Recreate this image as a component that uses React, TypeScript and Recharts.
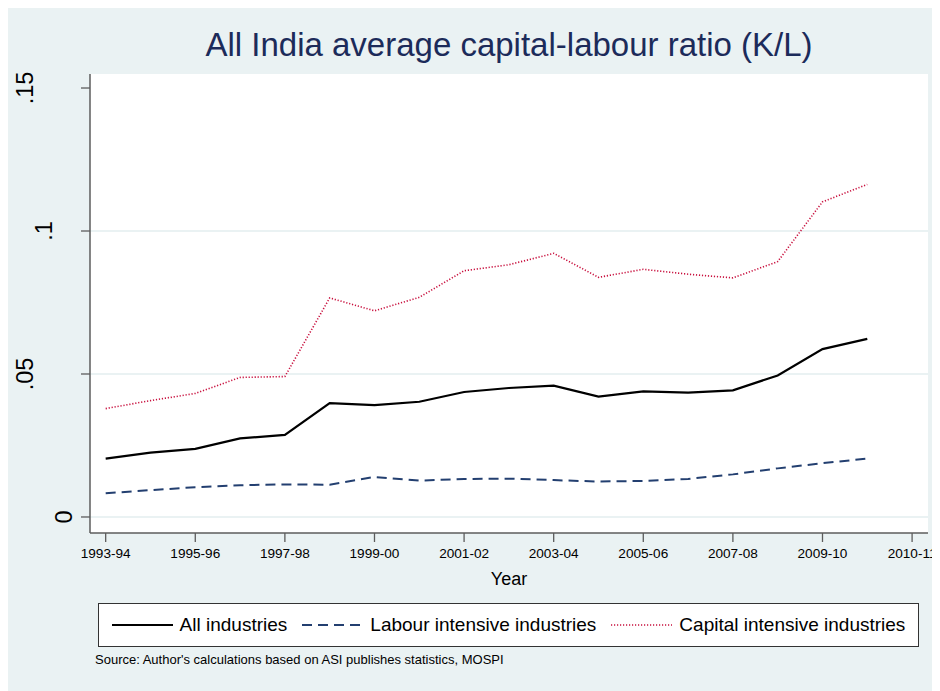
import React from "react";
import { LineChart, Line, XAxis, YAxis, CartesianGrid, ReferenceLine } from "recharts";

// values
const years = [
  "1993-94", "1994-95", "1995-96", "1996-97", "1997-98", "1998-99",
  "1999-00", "2000-01", "2001-02", "2002-03", "2003-04", "2004-05",
  "2005-06", "2006-07", "2007-08", "2008-09", "2009-10", "2010-11",
];
const allIndustries = [
  0.0204, 0.0225, 0.0238, 0.0275, 0.0287, 0.0398, 0.0391, 0.0403, 0.0437,
  0.0451, 0.0459, 0.0421, 0.0439, 0.0435, 0.0443, 0.0495, 0.0587, 0.0623,
];
const labourIntensive = [
  0.0083, 0.0094, 0.0104, 0.0111, 0.0114, 0.0113, 0.014, 0.0127, 0.0133,
  0.0134, 0.0129, 0.0124, 0.0126, 0.0133, 0.0149, 0.017, 0.0188, 0.0204,
];
const capitalIntensive = [
  0.0379, 0.0407, 0.0432, 0.0488, 0.0491, 0.0766, 0.0721, 0.0768, 0.0861,
  0.0882, 0.0922, 0.0838, 0.0866, 0.0849, 0.0836, 0.0893, 0.1102, 0.1163,
];
// Stata labels the last tick "2010-11" (one year past the data)
const xTickLabels = [
  "1993-94", "1995-96", "1997-98", "1999-00", "2001-02",
  "2003-04", "2005-06", "2007-08", "2009-10", "2010-11",
];
const xTicks = [0, 2, 4, 6, 8, 10, 12, 14, 16, 18];
const yTicks = [0, 0.05, 0.1, 0.15];
const yTickLabels = ["0", ".05", ".1", ".15"];
const gridValues = [0, 0.05, 0.1];

const data = years.map((year, i) => ({
  idx: i,
  year,
  all: allIndustries[i],
  labour: labourIntensive[i],
  capital: capitalIntensive[i],
}));

const BG = "#eaf2f3";
const AXIS = "#5c5c5c";
const NAVY = "#233f70";
const RED = "#c8103e";
const FONT = "'Liberation Sans', Arial, Helvetica, sans-serif";

const YTick = (props: any) => {
  const { y, payload } = props;
  const label = yTickLabels[yTicks.indexOf(payload.value)] ?? String(payload.value);
  // Stata offsets rotated labels by their unrotated length
  const bx = 64 - 19.5 * (label.length - 1);
  return (
    <text
      x={bx}
      y={y}
      transform={`rotate(-90, ${bx}, ${y})`}
      textAnchor="middle"
      fontSize={23.5}
      fontFamily={FONT}
      fill="#000"
    >
      {label}
    </text>
  );
};

const Sample = ({ color, dash, width }: { color: string; dash?: string; width: number }) => (
  <svg width={61} height={12} style={{ display: "block" }}>
    <line x1={0} y1={6} x2={61} y2={6} stroke={color} strokeWidth={width} strokeDasharray={dash} />
  </svg>
);

export default function App() {
  return (
    <div style={{ position: "relative", width: 932, height: 683, background: BG, fontFamily: FONT }}>
      <style>{"body{overflow:hidden}"}</style>
      <div
        style={{
          position: "absolute",
          left: 82,
          width: 838,
          top: 18,
          textAlign: "center",
          fontSize: 33,
          lineHeight: "38px",
          color: "#1c2b5a",
        }}
      >
        All India average capital-labour ratio (K/L)
      </div>
      <LineChart
        width={932}
        height={683}
        data={data}
        margin={{ top: 66, right: 12, bottom: 118, left: 0 }}
      >
        <CartesianGrid fill="#ffffff" fillOpacity={1} horizontal={false} vertical={false} />
        {gridValues.map((v) => (
          <ReferenceLine key={v} y={v} stroke={BG} strokeWidth={2} />
        ))}
        <XAxis
          dataKey="idx"
          type="number"
          domain={[-0.35, 18.355]}
          ticks={xTicks}
          allowDataOverflow
          height={40}
          tickSize={9}
          tickMargin={6}
          tickFormatter={(v: number) => xTickLabels[v / 2]}
          axisLine={{ stroke: AXIS, strokeWidth: 1.5 }}
          tickLine={{ stroke: AXIS, strokeWidth: 1.3 }}
          tick={{ fill: "#000", fontSize: 13.6, fontFamily: FONT }}
          interval={0}
        />
        <YAxis
          type="number"
          domain={[-0.0056, 0.1549]}
          ticks={yTicks}
          allowDataOverflow
          width={82}
          tickSize={9}
          axisLine={{ stroke: AXIS, strokeWidth: 1.5 }}
          tickLine={{ stroke: AXIS, strokeWidth: 1.3 }}
          tick={<YTick />}
          interval={0}
        />
        <Line
          type="linear"
          dataKey="all"
          stroke="#000"
          strokeWidth={2.2}
          dot={false}
          isAnimationActive={false}
        />
        <Line
          type="linear"
          dataKey="labour"
          stroke={NAVY}
          strokeWidth={2}
          strokeDasharray="10 6"
          dot={false}
          isAnimationActive={false}
        />
        <Line
          type="linear"
          dataKey="capital"
          stroke={RED}
          strokeWidth={1.6}
          strokeDasharray="1.2 1.8"
          dot={false}
          isAnimationActive={false}
        />
      </LineChart>
      <div
        style={{
          position: "absolute",
          left: 82,
          width: 838,
          top: 561,
          textAlign: "center",
          fontSize: 18,
          color: "#000",
        }}
      >
        Year
      </div>
      <div
        style={{
          position: "absolute",
          left: 90,
          top: 595,
          width: 819,
          height: 42,
          background: "#fff",
          border: "1px solid #333",
          display: "flex",
          alignItems: "center",
          justifyContent: "center",
          gap: 15,
          fontSize: 19,
          color: "#000",
        }}
      >
        <div style={{ display: "flex", alignItems: "center", gap: 7 }}>
          <Sample color="#000" width={2.2} />
          <span>All industries</span>
        </div>
        <div style={{ display: "flex", alignItems: "center", gap: 7 }}>
          <Sample color={NAVY} width={2} dash="10 6" />
          <span>Labour intensive industries</span>
        </div>
        <div style={{ display: "flex", alignItems: "center", gap: 7 }}>
          <Sample color={RED} width={1.6} dash="1.2 1.8" />
          <span>Capital intensive industries</span>
        </div>
      </div>
      <div style={{ position: "absolute", left: 87, top: 644, fontSize: 13, color: "#000" }}>
        Source: Author's calculations based on ASI publishes statistics, MOSPI
      </div>
    </div>
  );
}
